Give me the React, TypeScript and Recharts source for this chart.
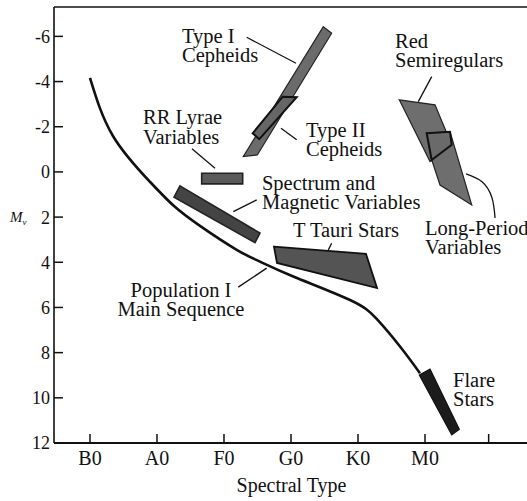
import React from 'react';
import { ComposedChart, XAxis, YAxis, Scatter, ReferenceLine } from 'recharts';

// ---- tick values / labels ----
const spectralTicks = [0, 1, 2, 3, 4, 5, 5.95];
const spectralLabels = ['B0', 'A0', 'F0', 'G0', 'K0', 'M0', ''];
const magTicks = [-6, -4, -2, 0, 2, 4, 6, 8, 10, 12];
const magLabels = ['-6', '-4', '-2', '0', '2', '4', '6', '8', '10', '12'];

// ---- main sequence (spectral class index, absolute magnitude) ----
const mainSequence = [
  { x: 0, y: -4.16 },
  { x: 0.343, y: -1.59 },
  { x: 0.896, y: 0.44 },
  { x: 1.254, y: 1.51 },
  { x: 1.642, y: 2.39 },
  { x: 2.19, y: 3.45 },
  { x: 2.537, y: 3.97 },
  { x: 3.034, y: 4.63 },
  { x: 3.881, y: 5.67 },
  { x: 4.279, y: 6.51 },
  { x: 4.627, y: 7.73 },
  { x: 4.925, y: 8.91 },
];

// ---- variable star regions ----
const typeICepheids = [
  { x: 3.482, y: -6.43 },
  { x: 3.607, y: -6.14 },
  { x: 2.497, y: -0.75 },
  { x: 2.288, y: -0.68 },
];
const typeIICepheids = [
  { x: 2.876, y: -3.33 },
  { x: 3.085, y: -3.31 },
  { x: 2.527, y: -1.45 },
  { x: 2.428, y: -1.71 },
];
const rrLyrae = [
  { x: 1.667, y: 0.06 },
  { x: 2.279, y: 0.06 },
  { x: 2.279, y: 0.53 },
  { x: 1.667, y: 0.53 },
];
const spectrumMagnetic = [
  { x: 1.343, y: 0.62 },
  { x: 2.537, y: 2.71 },
  { x: 2.463, y: 3.13 },
  { x: 1.254, y: 1.12 },
];
const tTauri = [
  { x: 2.746, y: 3.31 },
  { x: 4.119, y: 3.63 },
  { x: 4.284, y: 5.14 },
  { x: 2.791, y: 4.03 },
];
const redSemiregulars = [
  { x: 4.616, y: -3.19 },
  { x: 5.149, y: -2.97 },
  { x: 5.398, y: -1.2 },
  { x: 5.075, y: -0.46 },
];
const longPeriod = [
  { x: 5.025, y: -1.71 },
  { x: 5.373, y: -1.78 },
  { x: 5.697, y: 1.46 },
  { x: 5.224, y: 0.58 },
  { x: 5.1, y: -0.53 },
];
const overlapOutline = [
  { x: 5.025, y: -1.71 },
  { x: 5.373, y: -1.78 },
  { x: 5.398, y: -1.2 },
  { x: 5.1, y: -0.53 },
];
const flareStars = [
  { x: 4.915, y: 8.99 },
  { x: 5.075, y: 8.73 },
  { x: 5.512, y: 11.39 },
  { x: 5.399, y: 11.64 },
];

// ---- leader lines ----
const leaderStarts = [
  { x: 2.339, y: -5.96 },
  { x: 2.851, y: -1.93 },
  { x: 1.522, y: -1.02 },
  { x: 2.488, y: 1.24 },
  { x: 3.607, y: 3.16 },
  { x: 2.213, y: 5.1 },
  { x: 5.1, y: -4.22 },
];
const leaderEnds = [
  { x: 3.075, y: -4.81 },
  { x: 3.085, y: -1.42 },
  { x: 1.866, y: -0.16 },
  { x: 2.139, y: 1.76 },
  { x: 3.557, y: 3.45 },
  { x: 2.637, y: 4.26 },
  { x: 4.9, y: -3.11 },
];
const lpvLeader = [
  { x: 5.612, y: 0.09 },
  { x: 5.851, y: 0.44 },
  { x: 6.0, y: 1.15 },
  { x: 6.045, y: 2.04 },
];

// ---- annotation texts ----
const labels = [
  { lines: ['Type I', 'Cepheids'], x: 1.373, y: -5.71, align: 'start' },
  { lines: ['Type II', 'Cepheids'], x: 3.224, y: -1.55, align: 'start' },
  { lines: ['RR Lyrae', 'Variables'], x: 0.791, y: -2.1, align: 'start' },
  { lines: ['Spectrum and', 'Magnetic Variables'], x: 2.567, y: 0.8, align: 'start' },
  { lines: ['T Tauri Stars'], x: 3.03, y: 2.88, align: 'start' },
  { lines: ['Population I', 'Main Sequence'], x: 1.358, y: 5.53, align: 'middle' },
  { lines: ['Red', 'Semiregulars'], x: 4.552, y: -5.49, align: 'start' },
  { lines: ['Long-Period', 'Variables'], x: 5.0, y: 2.79, align: 'start' },
  { lines: ['Flare', 'Stars'], x: 5.418, y: 9.5, align: 'start' },
];

const FONT = "'Liberation Serif', 'Times New Roman', serif";
const INK = '#111';

const hidden = () => <g />;

const polygonLine = (fill: string, stroke: string, sw: number) => (p: any) => {
  const pts = (p.points || []).filter((q: any) => q && q.x != null && q.y != null);
  return (
    <polygon
      points={pts.map((q: any) => `${q.x},${q.y}`).join(' ')}
      fill={fill}
      stroke={stroke}
      strokeWidth={sw}
      strokeLinejoin="miter"
    />
  );
};

const LabelShape = (props: any) => {
  const { cx, cy, payload } = props;
  if (cx == null || cy == null) return <g />;
  return (
    <text x={cx} y={cy} textAnchor={payload.align} fontFamily={FONT} fontSize={20.5} fill={INK}>
      {payload.lines.map((l: string, i: number) => (
        <tspan key={i} x={cx} dy={i === 0 ? 0 : 19.5}>
          {l}
        </tspan>
      ))}
    </text>
  );
};

const BottomTick = (props: any) => {
  const { x, y, payload } = props;
  const idx = spectralTicks.indexOf(payload.value);
  return (
    <g>
      <line x1={x} y1={y} x2={x} y2={y - 9} stroke={INK} strokeWidth={1.5} />
      <text x={x} y={y + 22} textAnchor="middle" fontFamily={FONT} fontSize={20} fill={INK}>
        {spectralLabels[idx] ?? ''}
      </text>
    </g>
  );
};

const LeftTick = (props: any) => {
  const { x, y, payload } = props;
  const idx = magTicks.indexOf(payload.value);
  return (
    <g>
      <line x1={x} y1={y} x2={x + 9} y2={y} stroke={INK} strokeWidth={1.5} />
      <text x={x - 4} y={y} dy="0.36em" textAnchor="end" fontFamily={FONT} fontSize={18} fill={INK}>
        {magLabels[idx] ?? ''}
      </text>
    </g>
  );
};

const XTitle = (props: any) => {
  const vb = props.viewBox || { x: 54, y: 443, width: 475, height: 58 };
  return (
    <text x={vb.x + vb.width / 2} y={vb.y + 49} textAnchor="middle" fontFamily={FONT} fontSize={20} fill={INK}>
      Spectral Type
    </text>
  );
};

const YTitle = (props: any) => {
  const vb = props.viewBox || { x: 0, y: 7, width: 54, height: 436 };
  return (
    <text x={vb.x + 10} y={vb.y + vb.height / 2 - 3} fontFamily={FONT} fontSize={15} fontStyle="italic" fill={INK}>
      M
      <tspan fontSize={9} dy={3}>
        v
      </tspan>
    </text>
  );
};

const X_DOMAIN: [number, number] = [-0.537, 6.552];
const Y_DOMAIN: [number, number] = [-7.3, 12];

export default function App() {
  return (
    <div style={{ position: 'absolute', left: 0, top: 0, width: 527, height: 501, overflow: 'hidden', background: '#fff' }}>
      <ComposedChart width={540} height={501} margin={{ top: 7, right: 11, bottom: 0, left: 0 }}>
        <XAxis
          xAxisId={0}
          type="number"
          dataKey="x"
          domain={X_DOMAIN}
          allowDataOverflow
          ticks={spectralTicks}
          interval={0}
          height={58}
          axisLine={{ stroke: INK, strokeWidth: 2 }}
          tickLine={false}
          tickSize={0}
          tickMargin={0}
          tick={<BottomTick />}
          label={{ content: XTitle }}
        />
        <XAxis
          xAxisId="top"
          orientation="top"
          mirror
          type="number"
          dataKey="x"
          domain={X_DOMAIN}
          allowDataOverflow
          ticks={spectralTicks}
          interval={0}
          height={10}
          axisLine={{ stroke: INK, strokeWidth: 1.5 }}
          tickLine={{ stroke: INK, strokeWidth: 1.5 }}
          tickSize={8}
          tick={false}
        />
        <YAxis
          yAxisId={0}
          type="number"
          dataKey="y"
          domain={Y_DOMAIN}
          reversed
          allowDataOverflow
          ticks={magTicks}
          interval={0}
          width={54}
          axisLine={{ stroke: INK, strokeWidth: 1.6 }}
          tickLine={false}
          tickSize={0}
          tickMargin={0}
          tick={<LeftTick />}
          label={{ content: YTitle }}
        />
        <YAxis
          yAxisId="right"
          orientation="right"
          mirror
          type="number"
          dataKey="y"
          domain={Y_DOMAIN}
          reversed
          allowDataOverflow
          ticks={magTicks}
          interval={0}
          width={10}
          axisLine={{ stroke: INK, strokeWidth: 1.5 }}
          tickLine={{ stroke: INK, strokeWidth: 1.5 }}
          tickSize={8}
          tick={false}
        />

        {leaderStarts.map((s, i) => (
          <ReferenceLine
            key={'ld' + i}
            segment={[s, leaderEnds[i]]}
            stroke={INK}
            strokeWidth={1.3}
            ifOverflow="visible"
          />
        ))}
        <Scatter data={lpvLeader} dataKey="y" line={{ stroke: INK, strokeWidth: 1.3 }} lineType="joint" lineJointType="natural" shape={hidden} isAnimationActive={false} />

        <Scatter data={typeICepheids} dataKey="y" line={polygonLine('#6b6b6b', '#222', 1.2)} lineType="joint" shape={hidden} isAnimationActive={false} />
        <Scatter data={typeIICepheids} dataKey="y" line={polygonLine('#666', '#111', 2)} lineType="joint" shape={hidden} isAnimationActive={false} />
        <Scatter data={rrLyrae} dataKey="y" line={polygonLine('#5a5a5a', '#222', 1.6)} lineType="joint" shape={hidden} isAnimationActive={false} />
        <Scatter data={spectrumMagnetic} dataKey="y" line={polygonLine('#444', '#222', 1.6)} lineType="joint" shape={hidden} isAnimationActive={false} />
        <Scatter data={tTauri} dataKey="y" line={polygonLine('#545454', '#111', 1.8)} lineType="joint" shape={hidden} isAnimationActive={false} />
        <Scatter data={redSemiregulars} dataKey="y" line={polygonLine('#6e6e6e', '#222', 1.2)} lineType="joint" shape={hidden} isAnimationActive={false} />
        <Scatter data={longPeriod} dataKey="y" line={polygonLine('#6e6e6e', '#222', 1.2)} lineType="joint" shape={hidden} isAnimationActive={false} />
        <Scatter data={overlapOutline} dataKey="y" line={polygonLine('#6a6a6a', '#111', 2)} lineType="joint" shape={hidden} isAnimationActive={false} />

        <Scatter data={mainSequence} dataKey="y" line={{ stroke: INK, strokeWidth: 2.6 }} lineType="joint" lineJointType="natural" shape={hidden} isAnimationActive={false} />
        <Scatter data={flareStars} dataKey="y" line={polygonLine('#1c1c1c', '#111', 1.2)} lineType="joint" shape={hidden} isAnimationActive={false} />

        <Scatter data={labels} dataKey="y" shape={LabelShape} isAnimationActive={false} />
      </ComposedChart>
    </div>
  );
}
